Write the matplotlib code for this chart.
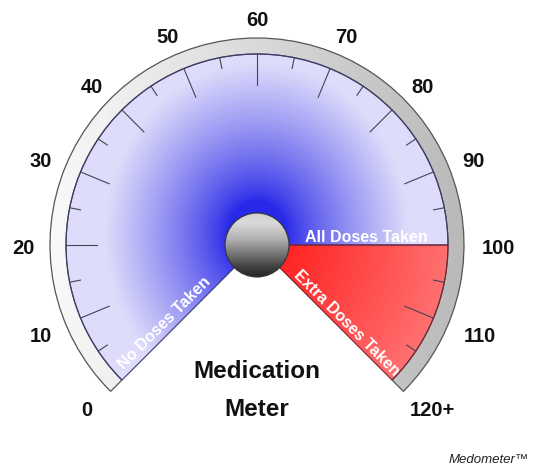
import numpy as np
import matplotlib.pyplot as plt
from matplotlib.patches import Wedge, Circle

# gauge data
scale_min = 0
scale_max = 120
full_dose = 100
label_values = [0, 10, 20, 30, 40, 50, 60, 70, 80, 90, 100, 110, 120]
tick_labels = ['0', '10', '20', '30', '40', '50', '60', '70', '80', '90', '100', '110', '120+']
major_ticks = [10, 20, 30, 40, 50, 60, 70, 80, 90, 110]
minor_ticks = [5, 15, 25, 35, 45, 55, 65, 75, 85, 95, 105, 115]
zone_values = [0, 100, 120]
zone_labels = ['No Doses Taken', 'All Doses Taken', 'Extra Doses Taken']
title_lines = ['Medication', 'Meter']
brand = 'Medometer\u2122'

start_angle = 225
sweep = 270

def angle(v):
    return start_angle - sweep * (v - scale_min) / (scale_max - scale_min)

R = 191        # face radius
R_ring = 207   # outer ring radius
r_knob = 32
FONT = 'Liberation Sans'

fig = plt.figure(figsize=(5.35, 4.72), dpi=100)
ax = fig.add_axes([0, 0, 1, 1])
ax.set_xlim(-257, 278)
ax.set_ylim(-227, 245)
ax.set_aspect('equal')
ax.axis('off')

def radial_image(c0, c1, r0, r1, power=1.0, yshift=0, yscale=1.0, n=400):
    xs = np.linspace(-R, R, n)
    X, Y = np.meshgrid(xs, xs)
    f = np.clip((np.hypot(X, (Y - yshift) * yscale) - r0) / (r1 - r0), 0, 1) ** power
    c0 = np.array(c0) / 255
    c1 = np.array(c1) / 255
    return c0 * (1 - f[..., None]) + c1 * f[..., None]

# outer ring, white on the left fading to grey on the right
ring = Wedge((0, 0), R_ring, angle(scale_max), angle(scale_min), width=R_ring - R,
             facecolor='none', edgecolor='#555555', lw=0.9, zorder=3)
ax.add_patch(ring)
xs = np.linspace(-R_ring, R_ring, 300)
g = np.clip((xs + R_ring) / (2 * R_ring), 0, 1)
ring_img = np.outer(np.ones(10), 0.975 - 0.25 * g)
im = ax.imshow(ring_img, extent=[-R_ring, R_ring, -R_ring, R_ring], cmap='gray',
               vmin=0, vmax=1, zorder=2, aspect='auto')
im.set_clip_path(Wedge((0, 0), R_ring, angle(scale_max), angle(scale_min),
                       width=R_ring - R, transform=ax.transData))

# blue face (0 .. 100)
face = Wedge((0, 0), R, angle(full_dose), angle(zone_values[0]), facecolor='none',
             edgecolor='#3a3a70', lw=0.8, zorder=4)
ax.add_patch(face)
im = ax.imshow(radial_image((40, 40, 232), (222, 220, 250), 30, 152, 0.8,
                            yshift=10, yscale=0.88),
               extent=[-R, R, -R, R], origin='lower', zorder=2)
im.set_clip_path(Wedge((0, 0), R, angle(full_dose), angle(zone_values[0]),
                       transform=ax.transData))

# red zone (100 .. 120)
red = Wedge((0, 0), R, angle(zone_values[2]), angle(full_dose), facecolor='none',
            edgecolor='#7a2030', lw=0.8, zorder=4)
ax.add_patch(red)
im = ax.imshow(radial_image((255, 35, 35), (255, 112, 112), 30, 191),
               extent=[-R, R, -R, R], origin='lower', zorder=2)
im.set_clip_path(Wedge((0, 0), R, angle(zone_values[2]), angle(full_dose),
                       transform=ax.transData))

# ticks
for v in major_ticks:
    t = np.radians(angle(v))
    ax.plot([160 * np.cos(t), R * np.cos(t)], [160 * np.sin(t), R * np.sin(t)],
            color='#444455', lw=0.8, zorder=5)
for v in minor_ticks:
    t = np.radians(angle(v))
    ax.plot([180 * np.cos(t), R * np.cos(t)], [180 * np.sin(t), R * np.sin(t)],
            color='#444455', lw=0.8, zorder=5)

# scale labels
for v, lab in zip(label_values, tick_labels):
    t = np.radians(angle(v))
    x = 229 * np.cos(t) + np.cos(t) * (5 + 7 * abs(len(lab) - 2))
    y = -4 + 229 * np.sin(t)
    ax.text(x, y, lab, ha='center', va='center',
            fontsize=14.5, fontweight='bold', family=FONT, color='#111111')

# zone labels
dists = [121, 109, 119]
offs = [-10, 8, 8]
for v, lab, d, o in zip(zone_values, zone_labels, dists, offs):
    a = angle(v)
    t = np.radians(a)
    x = d * np.cos(t) - o * np.sin(t)
    y = d * np.sin(t) + o * np.cos(t)
    rot = a - 180 if a > 90 else a
    ax.text(x, y, lab, ha='center', va='center', rotation=rot, rotation_mode='anchor',
            fontsize=11.5, fontweight='bold', family=FONT, color='white', zorder=6)

# knob
knob = Circle((0, 0), r_knob, facecolor='none', edgecolor='#333333', lw=0.8, zorder=8)
ax.add_patch(knob)
ys = np.linspace(0, 1, 100)
shade = np.interp(ys, [0, 0.15, 0.6, 0.85, 1], [0.15, 0.25, 0.7, 0.85, 0.82])
im = ax.imshow(shade[:, None] * np.ones((1, 5)), extent=[-r_knob, r_knob, -r_knob, r_knob],
               origin='lower', cmap='gray', vmin=0, vmax=1, zorder=7, aspect='auto')
im.set_clip_path(Circle((0, 0), r_knob, transform=ax.transData))

# title and brand
ax.text(0, -127, title_lines[0], ha='center', va='center', fontsize=17.5,
        fontweight='bold', family=FONT, color='#111111')
ax.text(0, -165, title_lines[1], ha='center', va='center', fontsize=17.5,
        fontweight='bold', family=FONT, color='#111111')
ax.text(272, -215, brand, ha='right', va='center', fontsize=9.5, style='italic',
        family=FONT, color='#222222')

fig.savefig('out.png', dpi=100)
